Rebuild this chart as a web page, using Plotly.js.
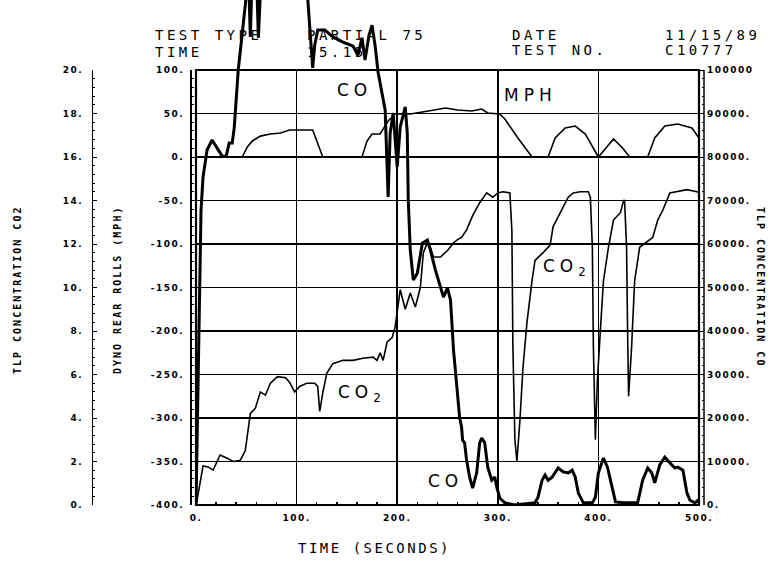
<!DOCTYPE html>
<html>
<head>
<meta charset="utf-8">
<script src="https://cdn.plot.ly/plotly-3.0.1.min.js"></script>
<style>
  html, body { margin: 0; padding: 0; background: #fff; }
  #chart { width: 778px; height: 571px; }
  .xtick text, .ytick text, .y2tick text, .y3tick text { letter-spacing: 1.5px; }
</style>
</head>
<body>
<div id="chart"></div>
<script>
// ---- data ----
const timeTicks = [0, 100, 200, 300, 400, 500];
const timeTickText = ['0.', '100.', '200.', '300.', '400.', '500.'];
const mphTicks = [100, 50, 0, -50, -100, -150, -200, -250, -300, -350, -400];
const mphTickText = ['100.', '50.', '0.', '-50.', '-100.', '-150.', '-200.', '-250.', '-300.', '-350.', '-400.'];
const co2Ticks = [0, 2, 4, 6, 8, 10, 12, 14, 16, 18, 20];
const co2TickText = ['0.', '2.', '4.', '6.', '8.', '10.', '12.', '14.', '16.', '18.', '20.'];
const coTicks = [0, 10, 20, 30, 40, 50, 60, 70, 80, 90, 100];
const coTickText = ['0.', '10000.', '20000.', '30000.', '40000.', '50000.', '60000.', '70000.', '80000.', '90000.', '100000'];

// MPH (dyno rear rolls)
const mphTime = [0,46,51,56,64,74,84,93,116,120,126,165,170,175,183,191,198,213,221,231,248,260,274,284,290,302,307,320,334,350,357,367,377,387,400,407,415,424,431,449,456,466,479,493,500];
const mphValue = [0,0,11.5,18.4,24,26.4,27.6,31,31,18.4,0,0,18.4,26.4,26.4,41.4,49.4,49.4,50.6,52.9,56.3,54,52.9,55.2,50.6,49.4,43.7,21.8,0,0,21.8,33.3,35.6,26.4,0,10.3,20.7,10.3,0,0,21.8,35.6,37.9,33.3,21.8];

// CO2 concentration (%)
const co2Time = [0,1,7,12,17,24,31,37,44,49,54,59,64,69,74,81,89,93,98,103,110,118,121,123,126,130,136,146,156,166,176,180,183,186,190,195,198,201,203,208,213,218,223,226,230,233,236,243,250,256,260,264,269,275,282,289,295,300,305,312,314,315,317,319,322,325,329,334,337,345,352,355,362,365,370,375,382,390,392,394,395,397,399,402,405,410,415,422,425,426,428,429,430,433,436,441,448,454,459,464,471,478,488,498,500];
const co2Value = [0,0.2,1.8,1.75,1.6,2.3,2.15,2.0,2.05,2.5,4.2,4.45,5.2,5.05,5.6,5.9,5.85,5.65,5.2,5.45,5.6,5.6,5.45,4.3,5.15,6.05,6.5,6.65,6.65,6.75,6.8,6.65,7.0,6.65,7.5,7.7,8.2,9.4,9.9,9.0,9.75,9.1,10.0,11.6,12.05,11.85,11.4,11.4,11.7,12.05,12.2,12.3,12.65,13.3,13.9,14.35,14.15,14.35,14.4,14.35,12.6,7.3,3.0,2.0,3.9,6.3,8.4,10.3,11.25,11.6,11.95,12.8,13.45,13.7,14.15,14.35,14.4,14.4,14.15,11.85,7.3,3.0,5.75,8.05,10.3,11.85,13.1,13.45,14.0,14.0,11.85,8.05,5.0,7.25,10.3,11.85,12.1,12.3,13.1,13.55,14.35,14.4,14.5,14.4,14.35];

// CO concentration (thousands)
const coTime = [0,3,5,7,11,16,21,26,30,33,36,38,42,46,49,52,54,56,60,62,65,109,112,114,116,118,121,128,136,146,156,161,165,168,172,175,178,181,188,191,193,196,200,203,206,208,210,211,213,216,220,225,230,233,238,243,246,250,253,256,259,262,264,265,267,269,272,275,279,282,284,287,290,294,297,299,302,307,317,337,340,344,347,350,354,360,365,370,374,377,380,385,394,397,400,405,409,414,417,426,439,444,449,453,456,461,466,471,476,479,484,488,491,496,499,500];
const coValue = [0,47.1,67.8,75.4,81.6,83.9,82.1,80.2,80.2,83.2,83.2,86.7,100,108,114.9,123,107.6,123,123,107.4,123,123,113.8,106.9,100.5,105.7,109.2,109.2,107.6,106.4,105.5,103.4,107.4,102.3,108,110.3,105.7,99.5,90.8,70.8,85.5,90.1,77.7,86.9,90.1,91.5,85.5,70.1,58.6,51.7,53.3,60.2,60.9,58.6,54,50.1,47.8,49.9,47.1,35.6,28,20.2,17.9,14.9,14.3,10.3,6.4,3.9,7.4,14.3,15.4,14.3,8.7,5.7,6.4,4.1,1.6,0.5,0,0.5,1.8,5.7,6.9,5.7,6.4,8.5,7.6,7.4,8,6.4,2.8,0.5,0.5,1.8,7.4,10.8,8.7,3.4,0.7,0.5,0.5,5.7,8.5,7.4,5.1,9.2,11,9.7,8.5,8.7,8,2.8,1.1,0.5,1.1,0.5];

// ---- layout helpers (pixel -> paper) ----
const ML = 10, MR = 10, MT = 0, MB = 66, W = 778, H = 571;
const PW = W - ML - MR, PH = H - MT - MB;
const PX = px => (px - ML) / PW;
const PY = py => (H - MB - py) / PH;
const plotTop = 70, plotBottom = 505, plotLeft = 196, plotRight = 699;
const yDomTop = PY(plotTop);

// minor tick positions for the CO scale (0 .. 100 thousand, every 2 thousand)
const coMinor = [];
for (let v = 0; v <= 100; v += 2) coMinor.push(v);

const tickFont = { family: 'DejaVu Sans', size: 9, color: '#000', weight: 'bold' };
const hdrFont = { family: 'DejaVu Sans Mono', size: 14, color: '#000' };
const lblFont = { family: 'DejaVu Sans', size: 17, color: '#000' };
const ttlFont = { family: 'DejaVu Sans Mono', size: 10, color: '#000', weight: 'bold' };

function sp(t, s) { return '<span style="letter-spacing:' + s + 'px">' + t + '</span>'; }
function hdr(t, px, py) {
  return { text: sp(t, 3.5), x: PX(px), y: PY(py), xref: 'paper', yref: 'paper', xanchor: 'left', yanchor: 'middle', showarrow: false, font: hdrFont };
}
function lbl(t, px, py, anchor) {
  return { text: sp(t, 5), x: PX(px), y: PY(py), xref: 'paper', yref: 'paper', xanchor: anchor || 'center', yanchor: 'middle', showarrow: false, font: lblFont };
}

const traces = [
  { x: mphTime, y: mphValue, xaxis: 'x', yaxis: 'y', mode: 'lines', line: { color: '#000', width: 1.6 }, hoverinfo: 'skip', showlegend: false },
  { x: co2Time, y: co2Value, xaxis: 'x', yaxis: 'y2', mode: 'lines', line: { color: '#000', width: 1.6 }, hoverinfo: 'skip', showlegend: false },
  { x: coTime, y: coValue, xaxis: 'x2', yaxis: 'y3', mode: 'lines', line: { color: '#000', width: 3 }, hoverinfo: 'skip', showlegend: false }
];

const xDom = [PX(plotLeft), PX(plotRight)];

const layout = {
  width: W, height: H,
  margin: { l: ML, r: MR, t: MT, b: MB, pad: 0 },
  paper_bgcolor: '#fff', plot_bgcolor: 'rgba(0,0,0,0)',
  showlegend: false,
  font: { family: 'DejaVu Sans', color: '#000' },
  xaxis: {
    domain: xDom, range: [0, 500], anchor: 'y',
    tickmode: 'array', tickvals: timeTicks, ticktext: timeTickText,
    tickfont: tickFont, ticks: 'inside', ticklen: 5, tickcolor: '#000', tickwidth: 1.5,
    ticklabelstandoff: 6,
    minor: { dtick: 20, ticks: 'inside', ticklen: 3, tickcolor: '#000', showgrid: false },
    showgrid: true, gridcolor: '#000', gridwidth: 1.5,
    zeroline: false, showline: false, fixedrange: true
  },
  yaxis: {
    domain: [0, yDomTop], range: [-400, 100], anchor: 'free', position: PX(190),
    tickmode: 'array', tickvals: mphTicks, ticktext: mphTickText,
    tickfont: tickFont, ticks: 'inside', ticklen: 4, tickcolor: '#000',
    ticklabelstandoff: 4,
    minor: { dtick: 10, ticks: 'inside', ticklen: 2, tickcolor: '#000', showgrid: false },
    showgrid: true, gridcolor: '#000', gridwidth: 1.5,
    zeroline: false, showline: true, linecolor: '#000', linewidth: 1.5, fixedrange: true
  },
  yaxis2: {
    overlaying: 'y', anchor: 'free', position: PX(92), side: 'left',
    range: [0, 20], tickmode: 'array', tickvals: co2Ticks, ticktext: co2TickText,
    tickfont: tickFont, ticks: 'inside', ticklen: 4, tickcolor: '#000',
    ticklabelstandoff: 7,
    minor: { dtick: 0.4, ticks: 'inside', ticklen: 2, tickcolor: '#000', showgrid: false },
    showgrid: false, zeroline: false, showline: true, linecolor: '#000', linewidth: 1.2, fixedrange: true
  },
  xaxis2: {
    domain: xDom, range: [0, 500], anchor: 'y3', visible: false, showgrid: false, zeroline: false, fixedrange: true
  },
  yaxis3: {
    domain: [0, 1], range: [0, 100 / yDomTop], anchor: 'free', position: PX(704), side: 'right',
    tickmode: 'array', tickvals: coTicks, ticktext: coTickText,
    tickfont: tickFont, ticks: 'inside', ticklen: 4, tickcolor: '#000',
    ticklabelstandoff: 2,
    minor: { tickmode: 'array', tickvals: coMinor, ticks: 'inside', ticklen: 2, tickcolor: '#000', showgrid: false },
    showgrid: false, zeroline: false, showline: false, fixedrange: true
  },
  shapes: [
    { type: 'rect', xref: 'x domain', yref: 'y domain', x0: 0, x1: 1, y0: 0, y1: 1, line: { color: '#000', width: 2.2 }, fillcolor: 'rgba(0,0,0,0)', layer: 'above' },
    { type: 'line', xref: 'paper', yref: 'y domain', x0: PX(704), x1: PX(704), y0: 0, y1: 1, line: { color: '#000', width: 1.5 }, layer: 'above' }
  ],
  annotations: [
    hdr('TEST TYPE', 153, 35), hdr('PARTIAL 75', 305, 35), hdr('DATE', 510, 35), hdr('11/15/89', 663, 35),
    hdr('TIME', 153, 52), hdr('15.15', 305, 52), hdr('TEST NO.', 510, 50), hdr('C10777', 663, 50),
    lbl('CO', 354, 90), lbl('MPH', 530, 95),
    lbl('CO<sub>2</sub>', 541, 267, 'left'), lbl('CO<sub>2</sub>', 336, 393, 'left'),
    lbl('CO', 445, 481),
    { text: sp('TLP CONCENTRATION CO2', 2), x: PX(17), y: PY(290), xref: 'paper', yref: 'paper', xanchor: 'center', yanchor: 'middle', textangle: -90, showarrow: false, font: ttlFont },
    { text: sp('DYNO REAR ROLLS (MPH)', 2), x: PX(117), y: PY(290), xref: 'paper', yref: 'paper', xanchor: 'center', yanchor: 'middle', textangle: -90, showarrow: false, font: ttlFont },
    { text: sp('TLP CONCENTRATION CO', 2), x: PX(761), y: PY(287), xref: 'paper', yref: 'paper', xanchor: 'center', yanchor: 'middle', textangle: 90, showarrow: false, font: ttlFont },
    { text: sp('TIME (SECONDS)', 2.5), x: PX(374), y: PY(548), xref: 'paper', yref: 'paper', xanchor: 'center', yanchor: 'middle', showarrow: false, font: hdrFont }
  ]
};

Plotly.newPlot('chart', traces, layout, { staticPlot: true, displayModeBar: false });
</script>
</body>
</html>
